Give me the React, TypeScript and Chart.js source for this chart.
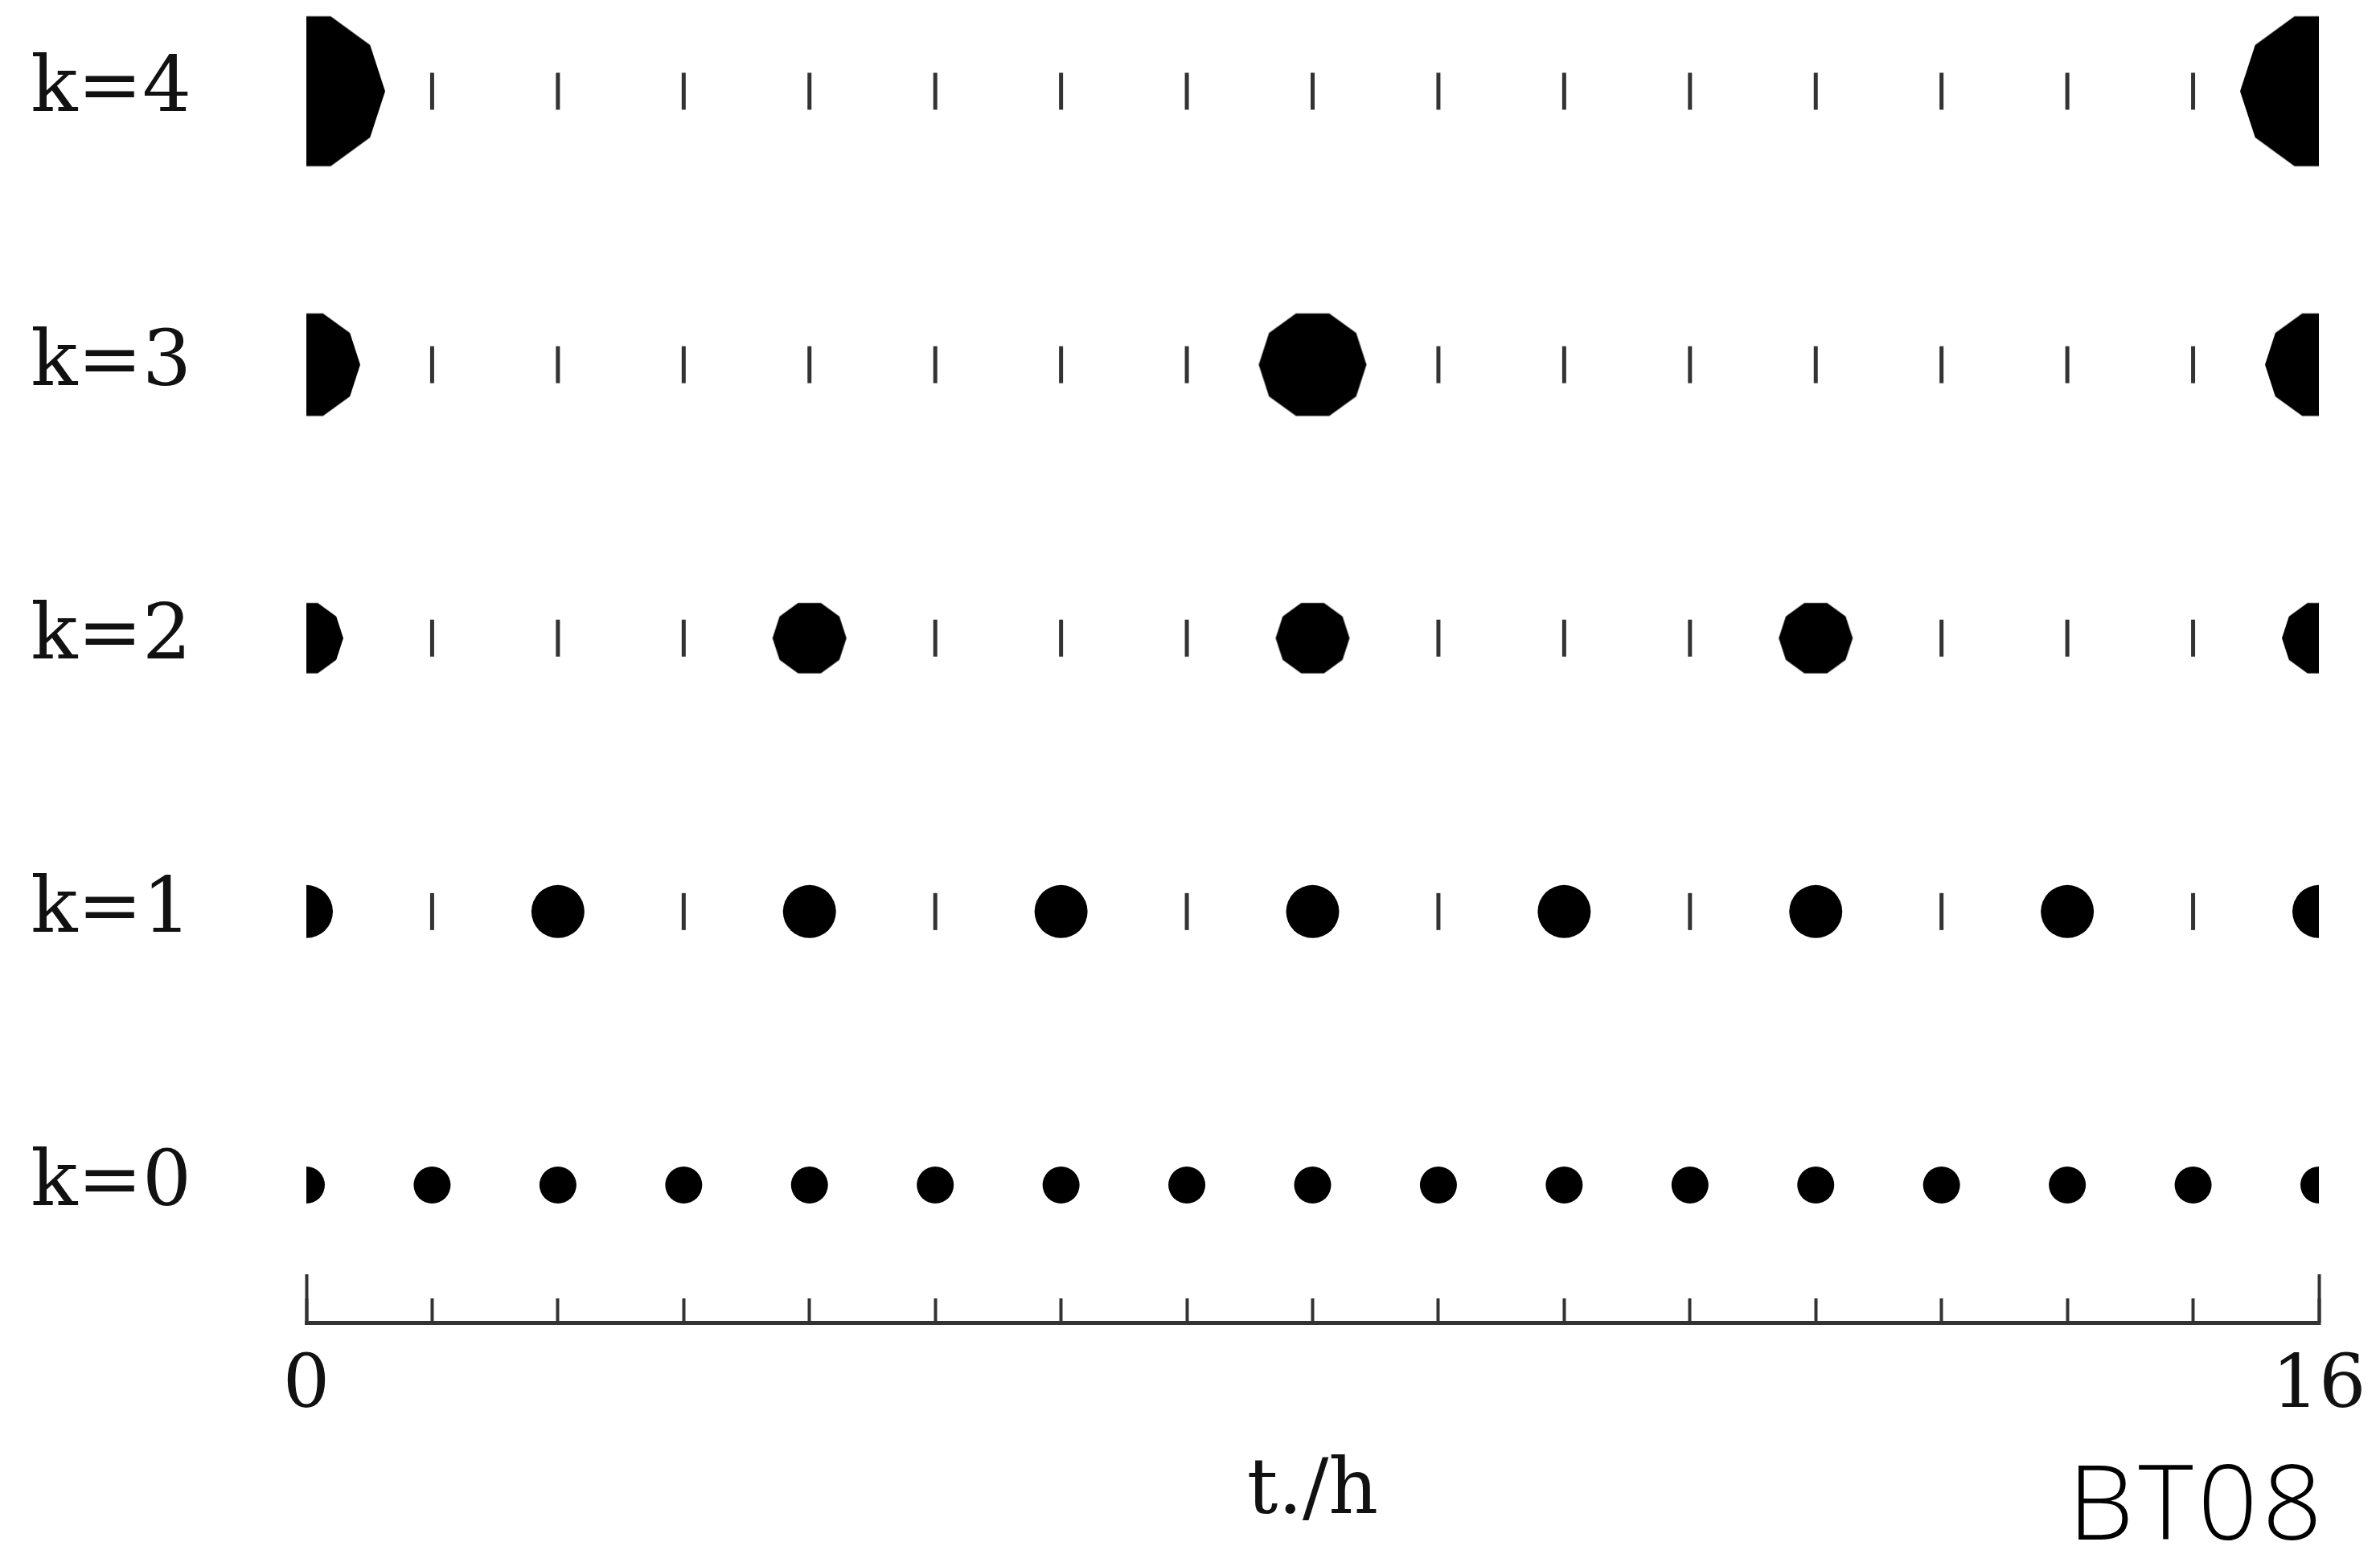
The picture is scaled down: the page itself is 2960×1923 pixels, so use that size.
import React, { useEffect, useRef } from 'react';
import { Chart, registerables } from 'chart.js';

Chart.register(...registerables);

// ---- data ----
const rowK = [0, 1, 2, 3, 4];
const rowLabels = ['k=0', 'k=1', 'k=2', 'k=3', 'k=4'];

const dotsK0 = [0, 1, 2, 3, 4, 5, 6, 7, 8, 9, 10, 11, 12, 13, 14, 15, 16];
const dotsK1 = [0, 2, 4, 6, 8, 10, 12, 14, 16];
const dotsK2 = [0, 4, 8, 12, 16];
const dotsK3 = [0, 8, 16];
const dotsK4 = [0, 16];

const marksK0: number[] = [];
const marksK1 = [1, 3, 5, 7, 9, 11, 13, 15];
const marksK2 = [1, 2, 3, 5, 6, 7, 9, 10, 11, 13, 14, 15];
const marksK3 = [1, 2, 3, 4, 5, 6, 7, 9, 10, 11, 12, 13, 14, 15];
const marksK4 = [1, 2, 3, 4, 5, 6, 7, 8, 9, 10, 11, 12, 13, 14, 15];

const axisTicks = [0, 1, 2, 3, 4, 5, 6, 7, 8, 9, 10, 11, 12, 13, 14, 15, 16];
const axisEndTicks = [0, 16];
const axisLabelled = [0, 16];
const xTitle = 't./h';
const cornerTag = 'BT08';

// ---- styles / layout ----
const W = 2960;
const H = 1923;
const X_MIN = 0;
const X_MAX = 16;
const Y_MIN = -0.5028;
const Y_MAX = 4.3337;
const DOT_RADII = [23, 33, 46, 67, 98];
const DOT_SIDES = [0, 0, 10, 10, 10];
const SERIF = "'DejaVu Serif', serif";
const INK = '#111';
const AXIS_INK = '#333';

function makePolygon(r: number, sides: number): HTMLCanvasElement {
  const c = document.createElement('canvas');
  const s = Math.ceil(2 * r + 4);
  c.width = s;
  c.height = s;
  const g = c.getContext('2d')!;
  g.fillStyle = '#000';
  g.beginPath();
  for (let i = 0; i < sides; i++) {
    const a = (i * 2 * Math.PI) / sides;
    const px = s / 2 + r * Math.cos(a);
    const py = s / 2 + r * Math.sin(a);
    if (i === 0) g.moveTo(px, py);
    else g.lineTo(px, py);
  }
  g.closePath();
  g.fill();
  return c;
}

export default function App() {
  const ref = useRef<HTMLCanvasElement>(null);

  useEffect(() => {
    document.body.style.margin = '0';
    const canvas = ref.current!;
    const dotSeries = [dotsK0, dotsK1, dotsK2, dotsK3, dotsK4];
    const markSeries = [marksK0, marksK1, marksK2, marksK3, marksK4];

    const datasets: any[] = [];
    rowK.forEach((k, i) => {
      datasets.push({
        label: 'dots ' + rowLabels[i],
        data: dotSeries[i].map((t) => ({ x: t, y: k })),
        pointStyle: DOT_SIDES[i] ? makePolygon(DOT_RADII[i], DOT_SIDES[i]) : 'circle',
        pointRadius: DOT_RADII[i],
        pointBackgroundColor: '#000',
        pointBorderWidth: 0,
        showLine: false,
        clip: { left: 0, right: 0, top: false, bottom: false },
        xAxisID: 'x',
        yAxisID: 'y',
      });
      if (markSeries[i].length) {
        datasets.push({
          label: 'marks ' + rowLabels[i],
          data: markSeries[i].map((t) => ({ x: t, y: k })),
          pointStyle: 'line',
          pointRotation: 90,
          pointRadius: 23,
          pointBorderWidth: 5,
          pointBorderColor: AXIS_INK,
          pointBackgroundColor: AXIS_INK,
          showLine: false,
          clip: false,
          xAxisID: 'x',
          yAxisID: 'y',
        });
      }
    });

    const chart = new Chart(canvas, {
      type: 'scatter',
      data: { datasets },
      options: {
        responsive: false,
        animation: false,
        devicePixelRatio: 1,
        events: [],
        layout: { autoPadding: false, padding: { left: 0, right: 76, top: 0, bottom: 0 } },
        plugins: {
          legend: { display: false },
          tooltip: { enabled: false },
        },
        scales: {
          x: {
            type: 'linear',
            position: 'bottom',
            min: X_MIN,
            max: X_MAX,
            afterBuildTicks: (s: any) => {
              s.ticks = axisTicks.map((v) => ({ value: v }));
            },
            afterFit: (s: any) => {
              s.height = 278;
              s.paddingLeft = 0;
              s.paddingRight = 0;
            },
            grid: {
              drawOnChartArea: false,
              drawTicks: true,
              tickLength: -30,
              tickWidth: 4,
              tickColor: AXIS_INK,
            },
            border: { display: true, color: AXIS_INK, width: 5 },
            ticks: {
              autoSkip: false,
              maxRotation: 0,
              minRotation: 0,
              padding: 56,
              color: INK,
              font: { family: SERIF, size: 92 },
              callback: (v: any) => (axisLabelled.includes(Number(v)) ? String(v) : ''),
            },
            title: {
              display: true,
              text: xTitle,
              color: INK,
              font: { family: SERIF, size: 96 },
              padding: { top: 0, bottom: 8 },
            },
          },
          xEnd: {
            type: 'linear',
            axis: 'x',
            position: { y: Y_MIN },
            min: X_MIN,
            max: X_MAX,
            afterBuildTicks: (s: any) => {
              s.ticks = axisEndTicks.map((v) => ({ value: v }));
            },
            afterFit: (s: any) => {
              s.height = 0;
              s.paddingLeft = 0;
              s.paddingRight = 0;
            },
            grid: {
              drawOnChartArea: false,
              drawTicks: true,
              tickLength: -60,
              tickWidth: 4,
              tickColor: AXIS_INK,
            },
            border: { display: false },
            ticks: { display: false },
          },
          y: {
            type: 'linear',
            position: 'left',
            min: Y_MIN,
            max: Y_MAX,
            afterBuildTicks: (s: any) => {
              s.ticks = rowK.map((v) => ({ value: v }));
            },
            afterFit: (s: any) => {
              s.width = 381;
              s.paddingTop = 0;
              s.paddingBottom = 0;
            },
            grid: { display: false, drawTicks: false },
            border: { display: false },
            ticks: {
              padding: 143,
              color: INK,
              font: { family: SERIF, size: 96 },
              callback: (_v: any, i: number) => rowLabels[i] ?? '',
            },
          },
        },
      } as any,
    });
    return () => chart.destroy();
  }, []);

  return (
    <div style={{ position: 'relative', width: W, height: H, overflow: 'hidden', background: '#fff' }}>
      <canvas ref={ref} width={W} height={H} style={{ display: 'block', width: W, height: H }} />
      <div
        style={{
          position: 'absolute',
          right: 66,
          top: 1800,
          fontFamily: "'Open Sans', sans-serif",
          fontWeight: 300,
          fontSize: 130,
          lineHeight: 1,
          letterSpacing: 6,
          color: '#000',
          whiteSpace: 'nowrap',
        }}
      >
        {cornerTag}
      </div>
    </div>
  );
}
